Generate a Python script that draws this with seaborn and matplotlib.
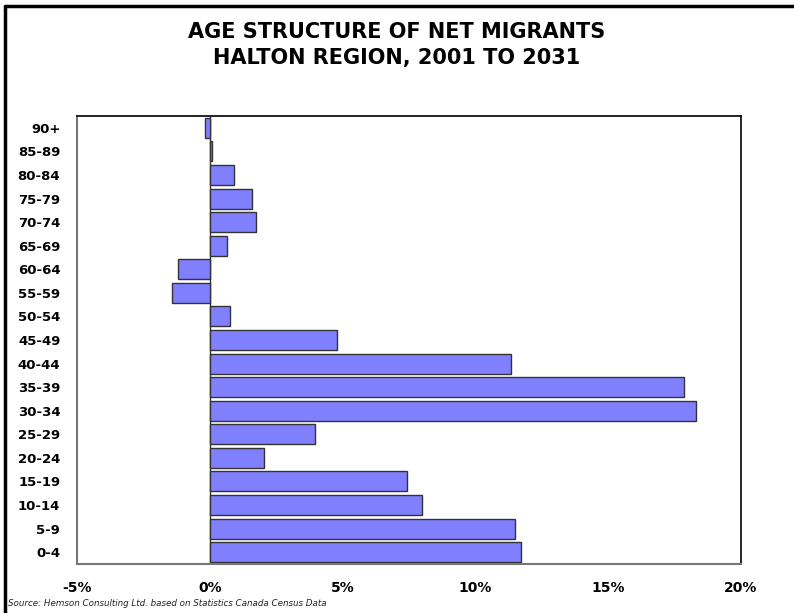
import numpy as np
import pandas as pd
import seaborn as sns
import matplotlib.pyplot as plt
from matplotlib.lines import Line2D

# Age groups, top to bottom as drawn
age_groups = ["90+", "85-89", "80-84", "75-79", "70-74", "65-69", "60-64",
              "55-59", "50-54", "45-49", "40-44", "35-39", "30-34", "25-29",
              "20-24", "15-19", "10-14", "5-9", "0-4"]
# Share of net migrants (%)
share_pct = [-0.18, 0.1, 0.91, 1.6, 1.75, 0.66, -1.19,
             -1.43, 0.76, 4.8, 11.34, 17.86, 18.3, 3.95,
             2.03, 7.44, 8.0, 11.48, 11.72]
x_ticks = [-5, 0, 5, 10, 15, 20]

df = pd.DataFrame({"age": age_groups, "share": share_pct})

sns.set_style("white")
plt.rcParams["font.family"] = ["DejaVu Sans"]
plt.rcParams["text.color"] = "black"
plt.rcParams["xtick.color"] = "black"
plt.rcParams["ytick.color"] = "black"

fig = plt.figure(figsize=(7.94, 6.13), dpi=100)
ax = fig.add_axes([77 / 794, 1 - 564 / 613, (741 - 77) / 794, (564 - 116) / 613])

sns.barplot(data=df, x="share", y="age", orient="h", color="#8080FF",
            saturation=1, width=0.85, edgecolor="#333333", linewidth=1, ax=ax)

ax.set_xlim(-5, 20)
ax.set_xticks(x_ticks)
ax.set_xticklabels([f"{t}%" for t in x_ticks], fontsize=10, fontweight="bold")
ax.tick_params(axis="x", length=0, pad=12)
ax.tick_params(axis="y", length=0, pad=12)
for lab in ax.get_yticklabels():
    lab.set_fontweight("bold")
    lab.set_fontsize(9.5)
ax.set_xlabel("")
ax.set_ylabel("")
ax.axvline(0, color="#333333", lw=1, zorder=0)

for side in ["top", "right"]:
    ax.spines[side].set_color("black")
    ax.spines[side].set_linewidth(1.2)
for side in ["left", "bottom"]:
    ax.spines[side].set_color("#777777")
    ax.spines[side].set_linewidth(1.5)

fig.text(0.5, 1 - 45 / 613, "AGE STRUCTURE OF NET MIGRANTS\nHALTON REGION, 2001 TO 2031",
         ha="center", va="center", fontsize=15, fontweight="bold", linespacing=1.35)
fig.text(8 / 794, 1 - 603 / 613, "Source: Hemson Consulting Ltd. based on Statistics Canada Census Data",
         ha="left", va="center", fontsize=6.3, style="italic", color="#222222")

# outer frame: top and left edges only
fig.lines.append(Line2D([5 / 794, 1.0], [1 - 6 / 613, 1 - 6 / 613], transform=fig.transFigure,
                        color="black", lw=2.5))
fig.lines.append(Line2D([5 / 794, 5 / 794], [0, 1 - 6 / 613], transform=fig.transFigure,
                        color="black", lw=2.5))

fig.savefig("out.png", dpi=100)
